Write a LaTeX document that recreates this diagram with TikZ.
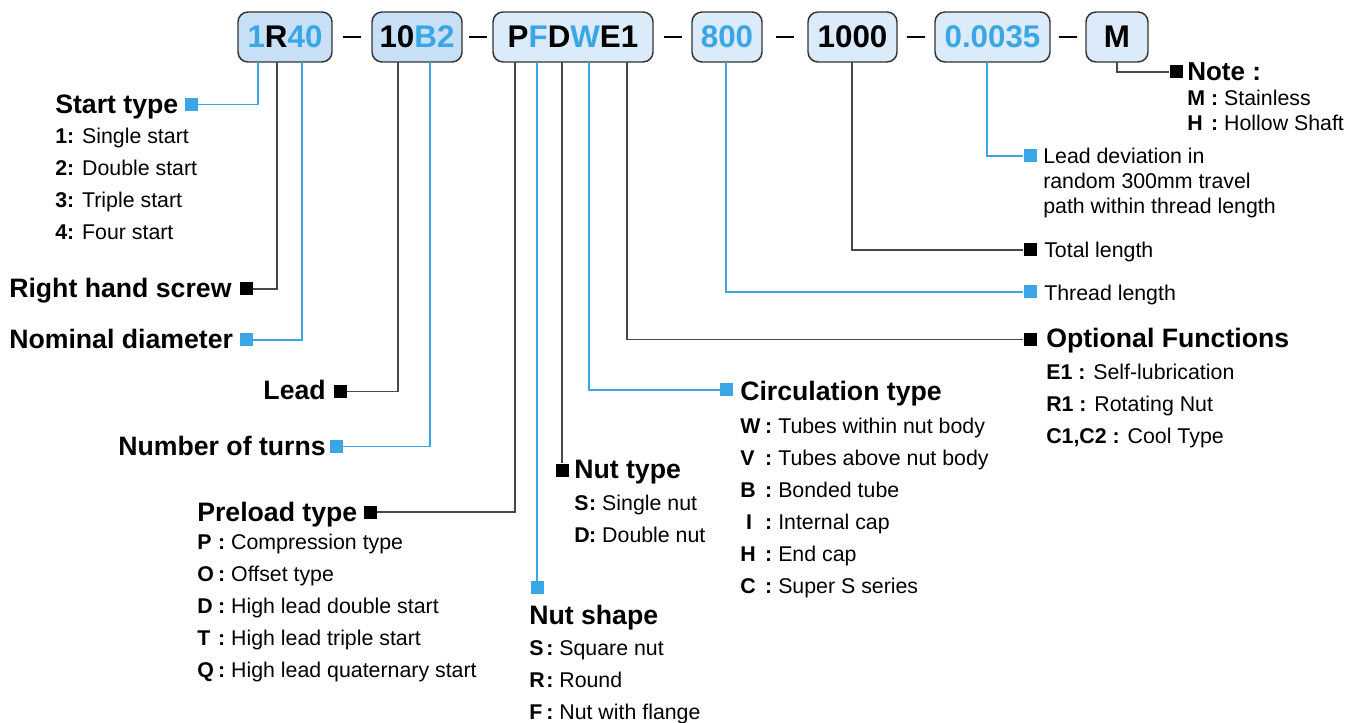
\documentclass[tikz,border=0pt]{standalone}
\usepackage{fontspec}
\setmainfont{Liberation Sans}
\usepackage{xcolor}
\usetikzlibrary{positioning,calc}
\definecolor{skyblue}{RGB}{58, 166, 230}
\definecolor{paleblue}{RGB}{199, 224, 246}
\definecolor{iceblue}{RGB}{219, 235, 249}
\definecolor{boxgray}{RGB}{51, 51, 51}
\definecolor{linegray}{RGB}{72, 72, 72}

\newcommand{\bl}[1]{\textcolor{skyblue}{#1}}
\newcommand{\keyw}[2]{\makebox[#1][l]{\textbf{#2}}\textbf{:}~}

\begin{document}
\begin{tikzpicture}[x=0.75pt, y=-0.75pt,
    code/.style={draw=boxgray, line width=1.1pt, rounded corners=7.5pt, minimum height=37.5pt, inner sep=0pt, font=\fontsize{23.5}{28}\selectfont\bfseries},
    codedark/.style={code, fill=paleblue},
    codelight/.style={code, fill=iceblue},
    sqblue/.style={fill=skyblue, minimum size=9.75pt, inner sep=0pt},
    sqblack/.style={fill=black, minimum size=9.75pt, inner sep=0pt},
    head/.style={font=\fontsize{20}{24}\selectfont\bfseries, inner sep=0pt},
    items/.style={font=\fontsize{16}{24}\selectfont, align=left, inner sep=0pt, anchor=north west},
    note/.style={font=\fontsize{16}{18.75}\selectfont, align=left, inner sep=0pt, anchor=north west},
    blueline/.style={skyblue, line width=1.1pt},
    blackline/.style={linegray, line width=1.1pt},
    dashbar/.style={black, line width=1.5pt}]
    \useasboundingbox (0,0) rectangle (1360,723);

    % Code boxes
    \node[codedark, minimum width=70.5pt] (C_SIZE) at (285, 37) {\bl{1}R\bl{40}};
    \node[codedark, minimum width=67.5pt] (C_LEAD) at (417, 37) {10\bl{B2}};
    \node[codelight, minimum width=120pt] (C_NUT) at (573, 37) {P\bl{F}D\bl{W}E1};
    \node[codelight, minimum width=52.5pt] (C_THREAD) at (727, 37) {\bl{800}};
    \node[codelight, minimum width=66.75pt] (C_TOTAL) at (852.5, 37) {1000};
    \node[codelight, minimum width=86.25pt] (C_DEV) at (992.5, 37) {\bl{0.0035}};
    \node[codelight, minimum width=46.5pt] (C_NOTE) at (1117, 37) {M};

    \draw[dashbar] ($(C_SIZE.east)!0.5!(C_LEAD.west)+(-9,0)$) -- ++(18,0);
    \draw[dashbar] ($(C_LEAD.east)!0.5!(C_NUT.west)+(-9,0)$) -- ++(18,0);
    \draw[dashbar] ($(C_NUT.east)!0.5!(C_THREAD.west)+(-9,0)$) -- ++(18,0);
    \draw[dashbar] ($(C_THREAD.east)!0.5!(C_TOTAL.west)+(-9,0)$) -- ++(18,0);
    \draw[dashbar] ($(C_TOTAL.east)!0.5!(C_DEV.west)+(-9,0)$) -- ++(18,0);
    \draw[dashbar] ($(C_DEV.east)!0.5!(C_NOTE.west)+(-9,0)$) -- ++(18,0);

    % Letter taps under the boxes
    \coordinate (T_START) at (258, 62);
    \coordinate (T_RHS) at (277, 62);
    \coordinate (T_NOM) at (302, 62);
    \coordinate (T_LEAD) at (398, 62);
    \coordinate (T_TURNS) at (430, 62);
    \coordinate (T_PRE) at (515, 62);
    \coordinate (T_NSHAPE) at (537, 62);
    \coordinate (T_NTYPE) at (562, 62);
    \coordinate (T_CIRC) at (589, 62);
    \coordinate (T_OPT) at (627, 62);
    \coordinate (T_THREAD) at (726, 62);
    \coordinate (T_TOTAL) at (852, 62);
    \coordinate (T_DEV) at (987, 62);
    \coordinate (T_NOTE) at (1117, 62);

    % Left side
    \node[sqblue] (SQ_START) at (191, 104.5) {};
    \node[head, anchor=base west] (START_HEAD) at (55, 113.3) {Start type};
    \node[items] (START_LIST) at (55, 128.2) {\textbf{1:} Single start\\ \textbf{2:} Double start\\ \textbf{3:} Triple start\\ \textbf{4:} Four start};

    \node[sqblack] (SQ_RHS) at (246.5, 289) {};
    \node[head, anchor=base west] (RHS_HEAD) at (9, 298) {Right hand screw};

    \node[sqblue] (SQ_NOM) at (246.5, 340) {};
    \node[head, anchor=base west] (NOM_HEAD) at (9, 349) {Nominal diameter};

    \node[sqblack] (SQ_LEAD) at (340, 391.5) {};
    \node[head, anchor=base east] (LEAD_HEAD) at (326, 400) {Lead};

    \node[sqblue] (SQ_TURNS) at (336, 446.5) {};
    \node[head, anchor=base east] (TURNS_HEAD) at (326, 455.5) {Number of turns};

    \node[sqblack] (SQ_PRE) at (370, 512) {};
    \node[head, anchor=base west] (PRE_HEAD) at (197, 521) {Preload type};
    \node[items] (PRE_LIST) at (197, 534.2) {\keyw{0.98em}{P}Compression type\\ \keyw{0.98em}{O}Offset type\\ \keyw{0.98em}{D}High lead double start\\ \keyw{0.98em}{T}High lead triple start\\ \keyw{0.98em}{Q}High lead quaternary start};

    % Middle
    \node[sqblack] (SQ_NTYPE) at (562, 470) {};
    \node[head, anchor=base west] (NTYPE_HEAD) at (574, 479) {Nut type};
    \node[items] (NTYPE_LIST) at (574, 495.2) {\makebox[0.7em][l]{\textbf{S}}\textbf{:}~Single nut\\ \makebox[0.7em][l]{\textbf{D}}\textbf{:}~Double nut};

    \node[sqblue] (SQ_NSHAPE) at (537, 587.5) {};
    \node[head, anchor=base west] (NSHAPE_HEAD) at (529, 624) {Nut shape};
    \node[items] (NSHAPE_LIST) at (529, 640.2) {\keyw{0.8em}{S}Square nut\\ \keyw{0.8em}{R}Round\\ \keyw{0.8em}{F}Nut with flange};

    \node[sqblue] (SQ_CIRC) at (726.5, 390) {};
    \node[head, anchor=base west] (CIRC_HEAD) at (740, 401) {Circulation type};
    \node[items] (CIRC_LIST) at (740, 418.2) {\keyw{1.17em}{W}Tubes within nut body\\ \keyw{1.17em}{V}Tubes above nut body\\ \keyw{1.17em}{B}Bonded tube\\ \keyw{1.17em}{\hspace{0.28em}I}Internal cap\\ \keyw{1.17em}{H}End cap\\ \keyw{1.17em}{C}Super S series};

    % Right side
    \node[sqblack] (SQ_NOTE) at (1176, 72) {};
    \node[head, anchor=base west, font=\fontsize{19.5}{24}\selectfont\bfseries] (NOTE_HEAD) at (1187, 81) {Note :};
    \node[note] (NOTE_LIST) at (1187, 90.2) {\keyw{1.12em}{M}Stainless\\ \keyw{1.12em}{H}Hollow Shaft};

    \node[sqblue] (SQ_DEV) at (1030, 156) {};
    \node[note] (DEV_TEXT) at (1043, 148.2) {Lead deviation in\\ random 300mm travel\\ path within thread length};

    \node[sqblack] (SQ_TOTAL) at (1030, 250) {};
    \node[note] (TOTAL_TEXT) at (1044, 241.3) {Total length};

    \node[sqblue] (SQ_THREAD) at (1030, 292) {};
    \node[note] (THREAD_TEXT) at (1044, 284.3) {Thread length};

    \node[sqblack] (SQ_OPT) at (1030, 339.5) {};
    \node[head, anchor=base west] (OPT_HEAD) at (1046, 347.5) {Optional Functions};
    \node[items] (OPT_LIST) at (1046, 364.2) {\textbf{E1 :} Self-lubrication\\ \textbf{R1 :} Rotating Nut\\ \textbf{C1,C2 :} Cool Type};

    % Leader lines
    \draw[blueline] (T_START) |- (SQ_START);
    \draw[blackline] (T_RHS) |- (SQ_RHS);
    \draw[blueline] (T_NOM) |- (SQ_NOM);
    \draw[blackline] (T_LEAD) |- (SQ_LEAD);
    \draw[blueline] (T_TURNS) |- (SQ_TURNS);
    \draw[blackline] (T_PRE) |- (SQ_PRE);
    \draw[blueline] (T_NSHAPE) -- (SQ_NSHAPE);
    \draw[blackline] (T_NTYPE) -- (SQ_NTYPE);
    \draw[blueline] (T_CIRC) |- (SQ_CIRC);
    \draw[blackline] (T_OPT) |- (SQ_OPT);
    \draw[blueline] (T_THREAD) |- (SQ_THREAD);
    \draw[blackline] (T_TOTAL) |- (SQ_TOTAL);
    \draw[blueline] (T_DEV) |- (SQ_DEV);
    \draw[blackline] (T_NOTE) |- (SQ_NOTE);
\end{tikzpicture}
\end{document}
